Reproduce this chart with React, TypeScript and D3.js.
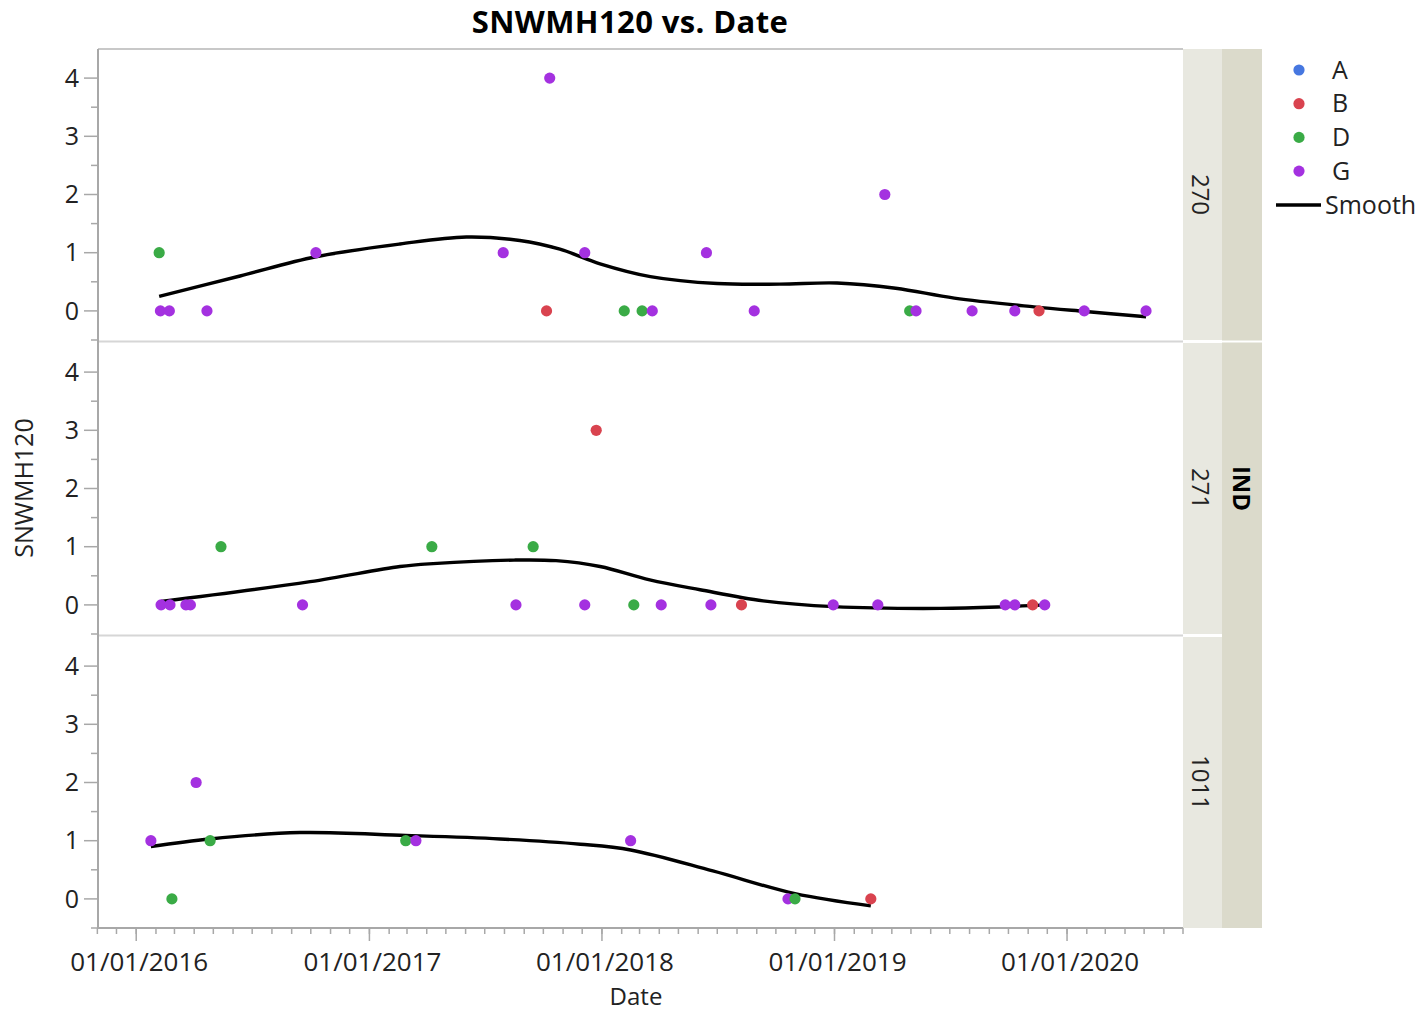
import React from "react";
import * as d3 from "d3";

type Pt = { date: string; value: number; group: string };

const groups = ["A", "B", "D", "G"];
const groupColors = ["#4677e0", "#d9434f", "#3aab46", "#a431e0"];
const panelLabels = ["270", "271", "1011"];
const outerLabel = "IND";
const yTicks = [0, 1, 2, 3, 4];
const xTickYears = ["2016-01-01", "2017-01-01", "2018-01-01", "2019-01-01", "2020-01-01"];
const xTickLabels = ["01/01/2016", "01/01/2017", "01/01/2018", "01/01/2019", "01/01/2020"];

const panel270: Pt[] = [
  { date: "2016-02-06", value: 1, group: "D" },
  { date: "2016-02-08", value: 0, group: "G" },
  { date: "2016-02-22", value: 0, group: "G" },
  { date: "2016-04-21", value: 0, group: "G" },
  { date: "2016-10-09", value: 1, group: "G" },
  { date: "2017-07-30", value: 1, group: "G" },
  { date: "2017-10-06", value: 0, group: "B" },
  { date: "2017-10-11", value: 4, group: "G" },
  { date: "2017-12-05", value: 1, group: "G" },
  { date: "2018-02-05", value: 0, group: "D" },
  { date: "2018-03-05", value: 0, group: "D" },
  { date: "2018-03-21", value: 0, group: "G" },
  { date: "2018-06-14", value: 1, group: "G" },
  { date: "2018-08-28", value: 0, group: "G" },
  { date: "2019-03-21", value: 2, group: "G" },
  { date: "2019-04-29", value: 0, group: "D" },
  { date: "2019-05-09", value: 0, group: "G" },
  { date: "2019-08-05", value: 0, group: "G" },
  { date: "2019-10-11", value: 0, group: "G" },
  { date: "2019-11-18", value: 0, group: "B" },
  { date: "2020-01-28", value: 0, group: "G" },
  { date: "2020-05-04", value: 0, group: "G" },
];

const panel271: Pt[] = [
  { date: "2016-02-09", value: 0, group: "G" },
  { date: "2016-02-23", value: 0, group: "G" },
  { date: "2016-03-19", value: 0, group: "G" },
  { date: "2016-03-26", value: 0, group: "G" },
  { date: "2016-05-13", value: 1, group: "D" },
  { date: "2016-09-18", value: 0, group: "G" },
  { date: "2017-04-09", value: 1, group: "D" },
  { date: "2017-08-19", value: 0, group: "G" },
  { date: "2017-09-15", value: 1, group: "D" },
  { date: "2017-12-05", value: 0, group: "G" },
  { date: "2017-12-23", value: 3, group: "B" },
  { date: "2018-02-20", value: 0, group: "D" },
  { date: "2018-04-04", value: 0, group: "G" },
  { date: "2018-06-21", value: 0, group: "G" },
  { date: "2018-08-08", value: 0, group: "B" },
  { date: "2018-12-30", value: 0, group: "G" },
  { date: "2019-03-10", value: 0, group: "G" },
  { date: "2019-09-26", value: 0, group: "G" },
  { date: "2019-10-11", value: 0, group: "G" },
  { date: "2019-11-08", value: 0, group: "B" },
  { date: "2019-11-27", value: 0, group: "G" },
];

const panel1011: Pt[] = [
  { date: "2016-01-24", value: 1, group: "G" },
  { date: "2016-02-26", value: 0, group: "D" },
  { date: "2016-04-04", value: 2, group: "G" },
  { date: "2016-04-26", value: 1, group: "D" },
  { date: "2017-02-27", value: 1, group: "D" },
  { date: "2017-03-15", value: 1, group: "G" },
  { date: "2018-02-15", value: 1, group: "G" },
  { date: "2018-10-20", value: 0, group: "G" },
  { date: "2018-10-31", value: 0, group: "D" },
  { date: "2019-02-27", value: 0, group: "B" },
];

type SPt = { date: string; value: number };

const smooth270: SPt[] = [
  { date: "2016-02-06", value: 0.25 },
  { date: "2016-06-12", value: 0.6 },
  { date: "2016-10-09", value: 0.93 },
  { date: "2017-02-18", value: 1.15 },
  { date: "2017-06-02", value: 1.27 },
  { date: "2017-08-25", value: 1.21 },
  { date: "2017-10-27", value: 1.06 },
  { date: "2017-12-29", value: 0.81 },
  { date: "2018-03-18", value: 0.59 },
  { date: "2018-07-01", value: 0.47 },
  { date: "2018-10-07", value: 0.46 },
  { date: "2019-01-05", value: 0.48 },
  { date: "2019-04-07", value: 0.39 },
  { date: "2019-07-08", value: 0.22 },
  { date: "2019-11-10", value: 0.07 },
  { date: "2020-01-30", value: -0.01 },
  { date: "2020-05-04", value: -0.1 },
];

const smooth271: SPt[] = [
  { date: "2016-02-09", value: 0.06 },
  { date: "2016-09-30", value: 0.4 },
  { date: "2017-02-18", value: 0.66 },
  { date: "2017-04-11", value: 0.71 },
  { date: "2017-08-16", value: 0.77 },
  { date: "2017-10-21", value: 0.76 },
  { date: "2017-12-29", value: 0.66 },
  { date: "2018-03-17", value: 0.43 },
  { date: "2018-06-04", value: 0.26 },
  { date: "2018-09-11", value: 0.07 },
  { date: "2018-12-31", value: -0.03 },
  { date: "2019-06-17", value: -0.06 },
  { date: "2019-09-27", value: -0.03 },
  { date: "2019-11-27", value: 0.0 },
];

const smooth1011: SPt[] = [
  { date: "2016-01-24", value: 0.9 },
  { date: "2016-04-26", value: 1.03 },
  { date: "2016-09-14", value: 1.14 },
  { date: "2017-02-27", value: 1.09 },
  { date: "2017-07-25", value: 1.03 },
  { date: "2017-11-28", value: 0.94 },
  { date: "2018-02-15", value: 0.84 },
  { date: "2018-06-24", value: 0.48 },
  { date: "2018-10-31", value: 0.09 },
  { date: "2019-02-27", value: -0.12 },
];

const panelPoints = [panel270, panel271, panel1011];
const panelSmooth = [smooth270, smooth271, smooth1011];

const parse = d3.utcParse("%Y-%m-%d");
const FONT = "'Open Sans', 'Noto Sans', sans-serif";

export default function App() {
  const W = 1423;
  const H = 1012;
  const left = 98;
  const right = 1183;
  const panelTops = [49, 343, 637];
  const panelH = 291;
  const innerStripR = 1222;
  const outerStripR = 1262;
  const bottom = panelTops[2] + panelH;

  const x = d3
    .scaleUtc()
    .domain([parse("2015-11-02")!, parse("2020-07-01")!])
    .range([left, right]);

  const color = d3.scaleOrdinal<string, string>().domain(groups).range(groupColors);

  const minorTicks = d3.utcMonth.range(parse("2015-11-01")!, parse("2020-07-02")!);
  const majorTicks = xTickYears.map((d) => parse(d)!);

  return (
    <svg width={W} height={H} style={{ position: "absolute", left: 0, top: 0 }} fontFamily={FONT}>
      <rect width={W} height={H} fill="#ffffff" />
      <text x={630} y={33} textAnchor="middle" fontSize={31} fontWeight="bold" letterSpacing={0.4} fill="#000">
        SNWMH120 vs. Date
      </text>

      {/* outer strip */}
      <rect x={innerStripR} y={panelTops[0]} width={outerStripR - innerStripR} height={bottom - panelTops[0]} fill="#dbdacb" />
      <text
        transform={`translate(${1242},${(panelTops[0] + bottom) / 2}) rotate(90)`}
        textAnchor="middle"
        dominantBaseline="central"
        fontSize={24}
        fontWeight="bold"
        fill="#000"
      >
        {outerLabel}
      </text>

      {panelTops.map((top, i) => {
        const y = d3.scaleLinear().domain([-0.5, 4.5]).range([top + panelH, top]);
        const line = d3
          .line<SPt>()
          .x((d) => x(parse(d.date)!))
          .y((d) => y(d.value))
          .curve(d3.curveCatmullRom.alpha(0.5));
        const minorY = [-0.5, 0.5, 1.5, 2.5, 3.5];
        return (
          <g key={i}>
            <rect x={right} y={top} width={innerStripR - right} height={panelH} fill="#e8e8e0" />
            <text
              transform={`translate(${1201},${top + panelH / 2}) rotate(90)`}
              textAnchor="middle"
              dominantBaseline="central"
              fontSize={24}
              fill="#222"
            >
              {panelLabels[i]}
            </text>
            {minorY.map((v) => (
              <line key={"m" + v} x1={91} x2={left} y1={y(v)} y2={y(v)} stroke="#a8a8a8" strokeWidth={1.5} />
            ))}
            {yTicks.map((v) => (
              <g key={v}>
                <line x1={84} x2={left} y1={y(v)} y2={y(v)} stroke="#a8a8a8" strokeWidth={1.5} />
                <text x={79} y={y(v)} dy="0.35em" textAnchor="end" fontSize={25} fill="#222">
                  {v}
                </text>
              </g>
            ))}
            <path d={line(panelSmooth[i]) || ""} fill="none" stroke="#000" strokeWidth={3.4} strokeLinejoin="round" />
            {panelPoints[i].map((p, j) => (
              <circle key={j} cx={x(parse(p.date)!)} cy={y(p.value)} r={5.6} fill={color(p.group)} />
            ))}
          </g>
        );
      })}

      {/* frame lines */}
      <line x1={left} x2={right} y1={panelTops[0]} y2={panelTops[0]} stroke="#c8c8c8" strokeWidth={2} />
      <line x1={left} x2={right} y1={panelTops[1] - 1.5} y2={panelTops[1] - 1.5} stroke="#d6d6d6" strokeWidth={2} />
      <line x1={left} x2={right} y1={panelTops[2] - 1.5} y2={panelTops[2] - 1.5} stroke="#d6d6d6" strokeWidth={2} />
      <line x1={right} x2={outerStripR} y1={panelTops[1] - 1.5} y2={panelTops[1] - 1.5} stroke="#ffffff" strokeWidth={2} />
      <line x1={right} x2={innerStripR} y1={panelTops[2] - 1.5} y2={panelTops[2] - 1.5} stroke="#ffffff" strokeWidth={2} />
      <line x1={left} x2={left} y1={panelTops[0]} y2={bottom} stroke="#a8a8a8" strokeWidth={2} />
      <line x1={left} x2={right} y1={bottom} y2={bottom} stroke="#a8a8a8" strokeWidth={2} />

      {/* x axis ticks */}
      {minorTicks.map((d, i) => (
        <line key={i} x1={x(d)} x2={x(d)} y1={bottom} y2={bottom + 6} stroke="#a8a8a8" strokeWidth={1.5} />
      ))}
      {majorTicks.map((d, i) => (
        <g key={"M" + i}>
          <line x1={x(d)} x2={x(d)} y1={bottom} y2={bottom + 13} stroke="#a8a8a8" strokeWidth={1.5} />
          <text x={x(d) + 3} y={971} textAnchor="middle" fontSize={26} fill="#222">
            {xTickLabels[i]}
          </text>
        </g>
      ))}

      <text x={636} y={1005} textAnchor="middle" fontSize={24} fill="#222">
        Date
      </text>
      <text transform={`translate(${33},${488}) rotate(-90)`} textAnchor="middle" fontSize={25} fill="#222">
        SNWMH120
      </text>

      {/* legend */}
      {groups.map((g, i) => (
        <g key={g}>
          <circle cx={1299} cy={70 + i * 33.7} r={5.6} fill={groupColors[i]} />
          <text x={1332} y={70 + i * 33.7} dy="0.35em" fontSize={25} fill="#222">
            {g}
          </text>
        </g>
      ))}
      <line x1={1276} x2={1321} y1={205} y2={205} stroke="#000" strokeWidth={3.4} />
      <text x={1325} y={205} dy="0.35em" fontSize={25} fill="#222">
        Smooth
      </text>
    </svg>
  );
}
